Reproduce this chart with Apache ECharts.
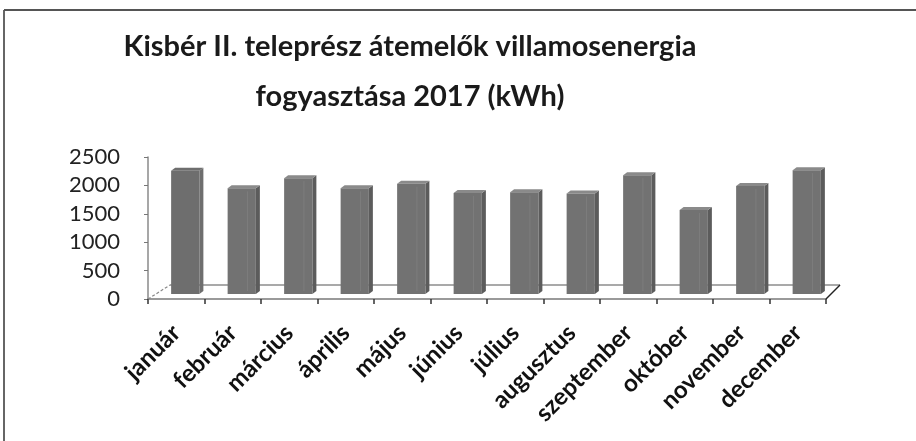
<!DOCTYPE html>
<html>
<head>
<meta charset="utf-8">
<script src="https://cdn.jsdelivr.net/npm/echarts@6/dist/echarts.min.js"></script>
<style>
  html, body { margin: 0; padding: 0; background: #fff; }
  #chart { width: 916px; height: 441px; }
</style>
</head>
<body>
<div id="chart"></div>
<script>
// havi fogyasztás (kWh)
var months = ['január', 'február', 'március', 'április', 'május', 'június',
              'július', 'augusztus', 'szeptember', 'október', 'november', 'december'];
var consumption = [2170, 1860, 2040, 1860, 1940, 1780, 1790, 1770, 2090, 1480, 1900, 2180];
var yTicks = [0, 500, 1000, 1500, 2000, 2500];

var chartDom = document.getElementById('chart');
var myChart = echarts.init(chartDom);

// oszlop eltolása a "mélységben" (3D hatás)
var SHIFT_X = 9, SHIFT_Y = -5, SIDE_X = 4, SIDE_Y = -3;

function renderBar(params, api) {
    var i = api.value(0);
    var v = api.value(1);
    var top = api.coord([i, v]);
    var base = api.coord([i, 0]);
    var w = api.size([1, 0])[0] * 0.5;
    var x0 = base[0] - w / 2 + SHIFT_X;
    var x1 = x0 + w;
    var yT = top[1] + SHIFT_Y;
    var yB = base[1] + SHIFT_Y;
    var first = params.dataIndex === 0;
    var front = first ? '#6e6e6e' : '#727272';
    return {
        type: 'group',
        children: [
            { // oldal
                type: 'polygon',
                shape: { points: [[x1, yT], [x1 + SIDE_X, yT + SIDE_Y], [x1 + SIDE_X, yB + SIDE_Y], [x1, yB]] },
                style: { fill: first ? '#6e6e6e' : '#5c5c5c' }
            },
            { // teteje
                type: 'polygon',
                shape: { points: [[x0, yT], [x0 + SIDE_X, yT + SIDE_Y], [x1 + SIDE_X, yT + SIDE_Y], [x1, yT]] },
                style: { fill: first ? '#6e6e6e' : '#8a8a8a' }
            },
            { // eleje
                type: 'rect',
                shape: { x: x0, y: yT, width: w, height: yB - yT },
                style: { fill: front }
            },
            {
                type: 'line',
                shape: { x1: x0 + w * 0.7, y1: yT + 3, x2: x0 + w * 0.7, y2: yB - 3 },
                style: { stroke: first ? front : '#7e7e7e', lineWidth: 1 }
            }
        ]
    };
}

// padló: a tengely két végéből számolva
function renderFloor(params, api) {
    var step = api.size([1, 0])[0];
    var a = api.coord([0, 0]);
    var b = api.coord([months.length - 1, 0]);
    var lx = a[0] - step / 2, rx = b[0] + step / 2, y = a[1], backY = y - 14;
    return {
        type: 'group',
        children: [
            { type: 'line', shape: { x1: lx, y1: y, x2: lx + 22, y2: backY },
              style: { stroke: '#888', lineWidth: 1.2, lineDash: [3, 2] } },
            { type: 'line', shape: { x1: lx + 22, y1: backY, x2: rx + 14, y2: backY },
              style: { stroke: '#8c8c8c', lineWidth: 1.5 } },
            { type: 'line', shape: { x1: rx, y1: y, x2: rx + 14, y2: backY },
              style: { stroke: '#222', lineWidth: 1.5 } }
        ]
    };
}

var option = {
    backgroundColor: '#fff',
    animation: false,
    title: {
        text: 'Kisbér II. teleprész átemelők villamosenergia\nfogyasztása 2017 (kWh)',
        left: 405,
        top: 17,
        textAlign: 'center',
        textStyle: {
            fontFamily: 'Lato',
            fontWeight: 'bold',
            fontSize: 29,
            lineHeight: 50,
            color: '#1a1a1a'
        }
    },
    grid: { left: 148, right: 90, top: 157, bottom: 142 },
    xAxis: {
        type: 'category',
        data: months,
        axisLine: { show: true, lineStyle: { color: '#7a7a7a', width: 1.5 } },
        axisTick: { show: true, length: 5, lineStyle: { color: '#333', width: 1.5 } },
        axisLabel: {
            rotate: 45,
            interval: 0,
            margin: 30,
            fontFamily: 'Lato',
            fontWeight: 'bold',
            fontSize: 24,
            color: '#111'
        }
    },
    yAxis: {
        type: 'value',
        min: yTicks[0],
        max: yTicks[yTicks.length - 1],
        interval: 500,
        splitLine: { show: false },
        axisLine: { show: true, lineStyle: { color: '#8a8a8a', width: 1.5 } },
        axisTick: { show: true, length: 4, lineStyle: { color: '#777' } },
        axisLabel: {
            margin: 28,
            fontFamily: 'Lato',
            fontSize: 22,
            color: '#222',
            formatter: function (v) { return String(v); }
        }
    },
    graphic: [
        { type: 'line', shape: { x1: 4, y1: 10, x2: 4, y2: 441 },
          style: { stroke: '#666', lineWidth: 2 } },
        { type: 'line', shape: { x1: 4, y1: 10, x2: 916, y2: 10 },
          style: { stroke: '#555', lineWidth: 2 } }
    ],
    series: [{
        type: 'custom',
        renderItem: renderFloor,
        encode: { x: 0, y: 1 },
        data: [[0, 0]],
        silent: true,
        z: 1
    }, {
        type: 'custom',
        renderItem: renderBar,
        encode: { x: 0, y: 1 },
        data: consumption.map(function (v, i) { return [i, v]; }),
        z: 3
    }]
};

option && myChart.setOption(option);
</script>
</body>
</html>
